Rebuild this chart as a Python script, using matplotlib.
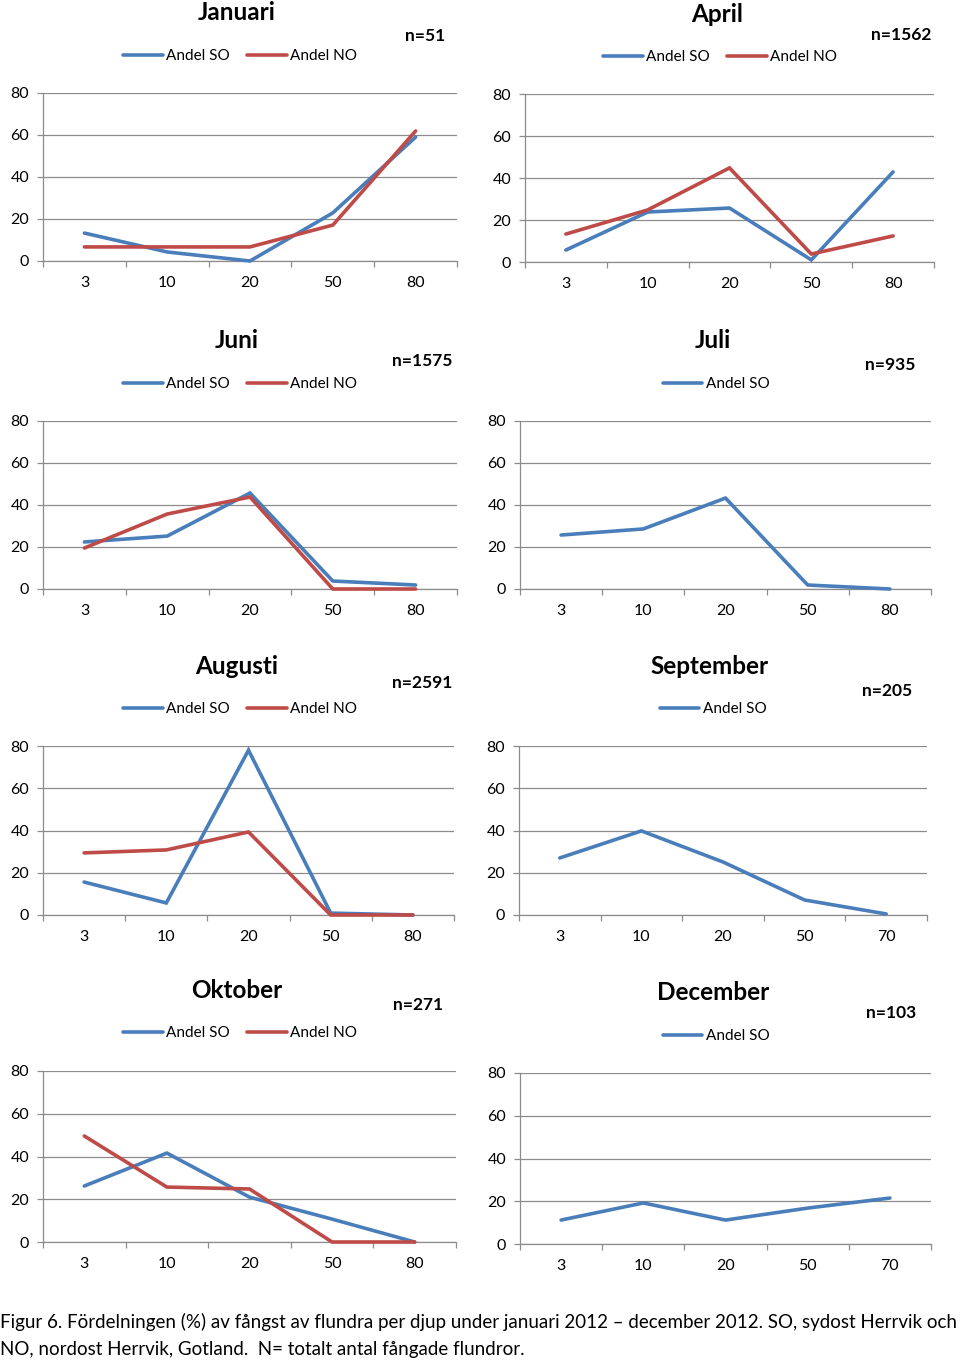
import numpy as np
import matplotlib
matplotlib.use('Agg')
import matplotlib.pyplot as plt

plt.rcParams['font.family'] = ['Lato', 'DejaVu Sans']

SO_COLOR = '#4A7EBB'
NO_COLOR = '#BE4B48'
GRID = '#8C8C8C'

W, H = 960, 1361

months = ['Januari', 'April', 'Juni', 'Juli', 'Augusti', 'September', 'Oktober', 'December']
n_values = ['n=51', 'n=1562', 'n=1575', 'n=935', 'n=2591', 'n=205', 'n=271', 'n=103']
depths = [
    ['3', '10', '20', '50', '80'],
    ['3', '10', '20', '50', '80'],
    ['3', '10', '20', '50', '80'],
    ['3', '10', '20', '50', '80'],
    ['3', '10', '20', '50', '80'],
    ['3', '10', '20', '50', '70'],
    ['3', '10', '20', '50', '80'],
    ['3', '10', '20', '50', '70'],
]
andel_so = [
    [13.3, 4.3, 0.0, 22.9, 59.0],
    [5.7, 23.8, 25.7, 1.0, 42.9],
    [22.4, 25.2, 45.7, 3.8, 1.9],
    [25.7, 28.6, 43.3, 1.9, 0.0],
    [15.6, 5.7, 78.0, 0.9, 0.0],
    [27.0, 39.8, 25.1, 7.1, 0.5],
    [26.2, 41.6, 21.0, 10.7, 0.0],
    [11.2, 19.2, 11.2, 16.8, 21.5],
]
andel_no = [
    [6.7, 6.7, 6.7, 17.1, 61.9],
    [13.3, 24.8, 44.8, 3.8, 12.4],
    [19.5, 35.7, 43.8, 0.0, 0.0],
    None,
    [29.4, 30.8, 39.3, 0.0, 0.0],
    None,
    [49.6, 25.7, 24.8, 0.0, 0.0],
    None,
]

# pixel layout: axes (left, right, top, bottom), title xy, n xy, legend center xy
axes_px = [(43, 457, 93, 261), (525, 934, 94, 262), (43, 457, 421, 589), (520, 931, 421, 589),
           (43, 454, 746, 915), (519, 927, 746, 915), (43, 456, 1071, 1242), (520, 931, 1073, 1244)]
title_px = [(237, 13), (717, 15), (237, 341), (713, 341), (237, 666), (710, 666), (237, 991), (713, 993)]
n_px = [(425, 36), (901, 35), (422, 361), (890, 365), (422, 683), (887, 691), (418, 1005), (891, 1013)]
leg_px = [(240, 56), (720, 57), (240, 384), (716, 384), (240, 709), (713, 709), (240, 1033), (716, 1036)]


def fx(x):
    return x / W


def fy(y):
    return 1 - y / H


fig = plt.figure(figsize=(W / 100, H / 100), dpi=100)

for i in range(len(months)):
    l, r, t, b = axes_px[i]
    ax = fig.add_axes([fx(l), fy(b), fx(r - l), (b - t) / H])
    x = np.arange(5)
    handles = []
    h1, = ax.plot(x, andel_so[i], color=SO_COLOR, lw=2.6, label='Andel SO',
                  solid_capstyle='round', solid_joinstyle='miter', clip_on=False, zorder=3)
    handles.append(h1)
    if andel_no[i] is not None:
        h2, = ax.plot(x, andel_no[i], color=NO_COLOR, lw=2.6, label='Andel NO',
                      solid_capstyle='round', solid_joinstyle='miter', clip_on=False, zorder=3)
        handles.append(h2)
    ax.set_xlim(-0.5, 4.5)
    ax.set_ylim(0, 80)
    ax.set_yticks([0, 20, 40, 60, 80])
    ax.grid(axis='y', color=GRID, lw=0.9)
    ax.set_axisbelow(True)
    for s in ['top', 'right']:
        ax.spines[s].set_visible(False)
    for s in ['left', 'bottom']:
        ax.spines[s].set_color(GRID)
        ax.spines[s].set_linewidth(0.9)
    ax.set_xticks(x)
    ax.set_xticklabels(depths[i])
    ax.set_xticks(np.arange(-0.5, 5, 1), minor=True)
    ax.tick_params(axis='x', which='major', length=0, pad=10.5, labelsize=11.5)
    ax.tick_params(axis='x', which='minor', length=4, width=0.9, color=GRID, direction='out')
    ax.tick_params(axis='y', length=4, width=0.9, color=GRID, pad=6, labelsize=11.5)

    tx, ty = title_px[i]
    fig.text(fx(tx), fy(ty), months[i], ha='center', va='center', fontsize=17.5, fontweight='bold')
    nx, ny = n_px[i]
    fig.text(fx(nx), fy(ny), n_values[i], ha='center', va='center', fontsize=12.5, fontweight='bold')
    lx, ly = leg_px[i]
    fig.legend(handles=handles, loc='center', bbox_to_anchor=(fx(lx), fy(ly)),
               bbox_transform=fig.transFigure, ncol=len(handles), frameon=False,
               fontsize=11, handlelength=2.6, handletextpad=0.2, columnspacing=1.1,
               borderpad=0, borderaxespad=0)

fig.text(0.0, fy(1322), 'Figur 6. Fördelningen (%) av fångst av flundra per djup under januari 2012 \u2013 '
         'december 2012. SO, sydost Herrvik och', ha='left', va='center', fontsize=13.5)
fig.text(0.0, fy(1350), 'NO, nordost Herrvik, Gotland.  N= totalt antal fångade flundror.',
         ha='left', va='center', fontsize=13.5)

fig.savefig('out.png', dpi=100)
